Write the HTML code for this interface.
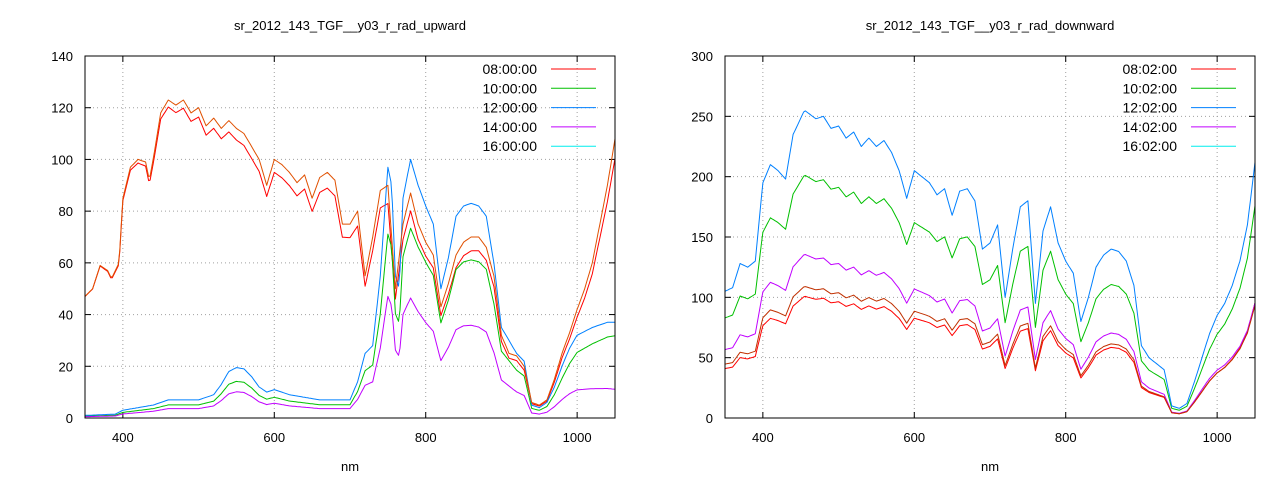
<!DOCTYPE html>
<html><head><meta charset="utf-8"><style>
html,body{margin:0;padding:0;background:#fff}
svg{display:block;font-family:"Liberation Sans",sans-serif}
</style></head><body>
<svg id="s" width="1280" height="480" xmlns="http://www.w3.org/2000/svg"></svg>
<script>
(function(){
var s=document.getElementById('s');var out='';
function interp(a,x){for(var i=0;i<a.length-1;i++){if(x<=a[i+1][0]){var t=(x-a[i][0])/(a[i+1][0]-a[i][0]);return a[i][1]+t*(a[i+1][1]-a[i][1]);}}return a[a.length-1][1];}
function plot(o){
 var L=o.x0,R=o.x1,T=56,B=418;
 var X=function(n){return L+(n-350)/700*(R-L);},Y=function(v){return B-v/o.ymax*(B-T);};
 out+='<text x="'+((L+R)/2)+'" y="30" font-size="13" text-anchor="middle">'+o.title+'</text>';
 for(var v=0;v<=o.ymax;v+=o.ystep){var y=Y(v);
  if(v>0&&v<o.ymax)out+='<line x1="'+L+'" x2="'+R+'" y1="'+y+'" y2="'+y+'" stroke="#a0a0a0" stroke-dasharray="1,3"/>';
  out+='<line x1="'+L+'" x2="'+(L+6)+'" y1="'+y+'" y2="'+y+'" stroke="#000"/><line x1="'+R+'" x2="'+(R-6)+'" y1="'+y+'" y2="'+y+'" stroke="#000"/>';
  out+='<text x="'+(L-12)+'" y="'+(y+5)+'" font-size="13" text-anchor="end">'+v+'</text>';}
 for(var n=400;n<=1000;n+=200){var x=X(n);
  out+='<line x1="'+x+'" x2="'+x+'" y1="'+T+'" y2="'+B+'" stroke="#a0a0a0" stroke-dasharray="1,3"/>';
  out+='<line x1="'+x+'" x2="'+x+'" y1="'+B+'" y2="'+(B-6)+'" stroke="#000"/><line x1="'+x+'" x2="'+x+'" y1="'+T+'" y2="'+(T+6)+'" stroke="#000"/>';
  out+='<text x="'+x+'" y="'+(B+24)+'" font-size="13" text-anchor="middle">'+n+'</text>';}
 out+='<text x="'+((L+R)/2)+'" y="471" font-size="13" text-anchor="middle">nm</text>';
 out+='<defs><clipPath id="c'+L+'"><rect x="'+L+'" y="'+T+'" width="'+(R-L)+'" height="'+(B-T)+'"/></clipPath></defs><g clip-path="url(#c'+L+')">';
 o.series.forEach(function(sr){var p='';for(var n=350;n<=1050;n+=2){var v=interp(sr.b,n)*interp(sr.k,n);p+=(p?'L':'M')+X(n).toFixed(1)+','+Y(v).toFixed(1);}
  out+='<path d="'+p+'" fill="none" stroke="'+sr.c+'" stroke-width="1" stroke-linejoin="round"/>';});
 out+='</g>';
 var cols=['#ff0000','#00c000','#0080ff','#c000ff','#00eeee'];
 o.labels.forEach(function(l,i){var y=69+i*19.3;out+='<text x="'+(R-78)+'" y="'+(y+5)+'" font-size="14" text-anchor="end">'+l+'</text><line x1="'+(R-64)+'" x2="'+(R-19)+'" y1="'+y+'" y2="'+y+'" stroke="'+cols[i]+'"/>';});
 out+='<rect x="'+L+'" y="'+T+'" width="'+(R-L)+'" height="'+(B-T)+'" fill="none" stroke="#000"/>';
}
var hi=[[350,47],[360,50],[370,59],[380,57],[385,54],[395,60],[400,85],[410,97],[420,100],[430,99],[435,92],[440,100],[450,118],[460,123],[470,121],[480,123],[490,118],[500,120],[510,113],[520,116],[530,112],[540,115],[550,112],[560,110],[570,105],[580,100],[590,90],[600,100],[610,98],[620,95],[630,91],[640,94],[650,85],[660,93],[670,95],[680,92],[690,75],[700,75],[710,80],[720,55],[730,70],[740,88],[750,90],[760,50],[770,75],[780,87],[790,75],[800,68],[810,63],[820,43],[830,52],[840,63],[850,68],[860,70],[870,70],[880,66],[890,55],[900,32],[910,25],[920,24],[930,20],[940,6],[950,5],[960,7],[970,15],[980,25],[990,33],[1000,42],[1010,50],[1020,60],[1030,75],[1040,90],[1050,108]];
var low=[[350,1],[390,1.5],[400,3],[420,4],[440,5],[460,7],[500,7],[520,9],[530,13],[540,18],[550,19.5],[560,19],[570,16],[580,12],[590,10],[600,11],[620,9],[640,8],[660,7],[700,7],[710,14],[720,25],[730,28],[740,55],[750,97],[755,90],[760,55],[765,50],[770,85],[780,100],[790,90],[800,82],[810,75],[820,50],[830,62],[840,78],[850,82],[860,83],[870,82],[880,78],[890,60],[900,35],[910,30],[920,25],[930,22],[940,5],[950,4],[960,6],[970,12],[980,20],[990,27],[1000,32],[1020,35],[1040,37],[1050,37]];
var one=[[350,1],[1050,1]];
plot({x0:85,x1:615,ymax:140,ystep:20,title:'sr_2012_143_TGF__y03_r_rad_upward',labels:['08:00:00','10:00:00','12:00:00','14:00:00','16:00:00'],
 series:[{b:hi,k:[[350,1],[700,0.93],[760,0.92],[1050,0.93]],c:'#ff0000'},{b:low,k:[[350,0.72],[960,0.74],[1050,0.86]],c:'#00c000'},{b:low,k:one,c:'#0080ff'},{b:low,k:[[350,0.52],[700,0.52],[800,0.45],[900,0.42],[1050,0.3]],c:'#c000ff'},{b:hi,k:one,c:'#e05000'}]});
var rb=[[350,105],[360,108],[370,128],[380,125],[390,130],[400,195],[410,210],[420,205],[430,198],[440,235],[455,255],[470,248],[480,250],[490,240],[500,242],[510,232],[520,237],[530,225],[540,232],[550,225],[560,230],[570,220],[580,205],[590,182],[600,205],[610,200],[620,195],[630,185],[640,190],[650,168],[660,188],[670,190],[680,180],[690,140],[700,145],[710,160],[720,100],[730,140],[740,175],[750,180],[760,95],[770,155],[780,175],[790,145],[800,130],[810,120],[820,80],[830,100],[840,125],[850,135],[860,140],[870,138],[880,130],[890,110],[900,60],[910,50],[920,45],[930,40],[940,10],[950,8],[960,12],[970,30],[980,50],[990,70],[1000,85],[1010,95],[1020,110],[1030,130],[1040,160],[1050,212]];
plot({x0:725,x1:1255,ymax:300,ystep:50,title:'sr_2012_143_TGF__y03_r_rad_downward',labels:['08:02:00','10:02:00','12:02:00','14:02:00','16:02:00'],
 series:[{b:rb,k:[[350,0.39],[900,0.42],[1050,0.45]],c:'#ff0000'},{b:rb,k:[[350,0.79],[900,0.79],[1050,0.83]],c:'#00c000'},{b:rb,k:one,c:'#0080ff'},{b:rb,k:[[350,0.54],[900,0.5],[1050,0.45]],c:'#c000ff'},{b:rb,k:[[350,0.425],[900,0.44],[1050,0.44]],c:'#c03000'}]});
s.innerHTML=out;
})();
</script>
</body></html>
